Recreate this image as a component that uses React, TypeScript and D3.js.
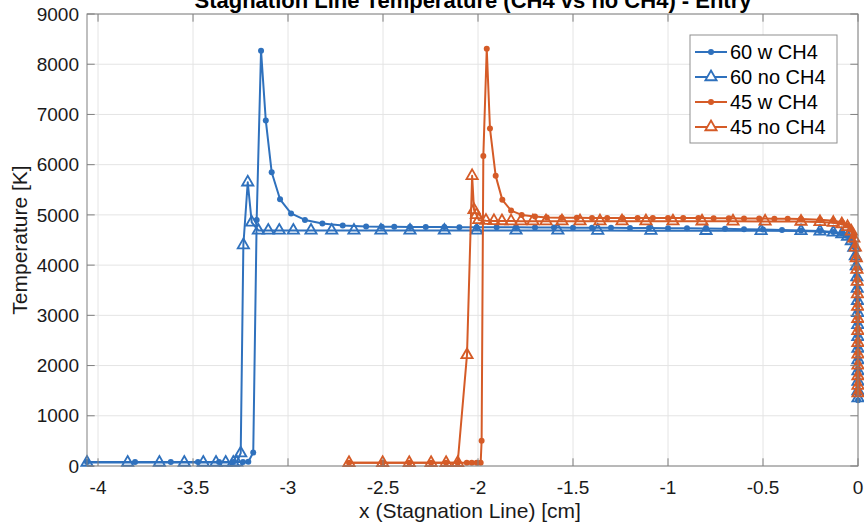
import React, { useEffect, useRef } from "react";
import * as d3 from "d3";

// chart size and plot box (pixels)
const width = 864, height = 523;
const margin = { top: 14, right: 6, bottom: 57, left: 87 };

const xTicks = [-4, -3.5, -3, -2.5, -2, -1.5, -1, -0.5, 0];
const yTicks = [0, 1000, 2000, 3000, 4000, 5000, 6000, 7000, 8000, 9000];

const seriesNames = ["60 w CH4", "60 no CH4", "45 w CH4", "45 no CH4"];
const seriesColors = ["#2f71bd", "#2f71bd", "#d55b27", "#d55b27"];
const seriesMarkers = ["dot", "tri", "dot", "tri"];

// points close to the wall (shared x grid)
const wallX = [-0.3, -0.2, -0.13, -0.085, -0.055, -0.035, -0.022, -0.014, -0.009, -0.006, -0.004,
  -0.0027, -0.0018, -0.0012, -0.0008, -0.0005, -0.0003, -0.00018, -0.0001, -0.00004, 0];

// 60 w CH4
const x60w = [-4.058, -3.805, -3.617, -3.474, -3.363, -3.289, -3.237, -3.209, -3.183, -3.165, -3.142,
  -3.117, -3.086, -3.042, -2.984, -2.911, -2.819, -2.712, -2.589, -2.507, -2.441, -2.358, -2.275,
  -2.177, -2.098, -2.007, -1.902, -1.8, -1.7, -1.6, -1.5, -1.4, -1.3, -1.2, -1.1, -1.0, -0.9, -0.8,
  -0.7, -0.6, -0.5, -0.4];
const t60w = [80, 80, 80, 80, 80, 80, 80, 85, 270, 4900, 8270, 6880, 5850, 5310, 5030, 4900, 4830,
  4790, 4770, 4765, 4762, 4760, 4758, 4757, 4756, 4755, 4754, 4752, 4750, 4748, 4746, 4744, 4742,
  4740, 4738, 4735, 4732, 4728, 4722, 4715, 4708, 4700];
const t60wWall = [4690, 4678, 4660, 4630, 4580, 4495, 4365, 4195, 3995, 3775, 3545, 3305, 3065, 2825,
  2585, 2345, 2110, 1880, 1660, 1470, 1310];

// 60 no CH4
const x60n = [-4.058, -3.844, -3.677, -3.546, -3.446, -3.379, -3.328, -3.288, -3.27, -3.249, -3.235,
  -3.212, -3.191, -3.156, -3.104, -3.046, -2.972, -2.879, -2.77, -2.653, -2.511, -2.358, -2.177,
  -2.007, -1.8, -1.58, -1.37, -1.09, -0.8, -0.51];
const t60n = [70, 70, 70, 70, 70, 70, 70, 70, 75, 255, 4400, 5650, 4850, 4690, 4690, 4690, 4690,
  4690, 4690, 4690, 4690, 4690, 4690, 4690, 4690, 4690, 4688, 4686, 4684, 4682];
const t60nWall = [4680, 4670, 4650, 4620, 4570, 4480, 4350, 4180, 3980, 3760, 3530, 3290, 3050, 2810,
  2570, 2340, 2110, 1890, 1680, 1490, 1350];

// 45 w CH4
const x45w = [-2.679, -2.502, -2.362, -2.247, -2.168, -2.107, -2.059, -2.033, -2.007, -1.986, -1.981,
  -1.972, -1.954, -1.937, -1.907, -1.872, -1.826, -1.77, -1.7, -1.638, -1.56, -1.48, -1.4, -1.32,
  -1.24, -1.16, -1.08, -1.0, -0.92, -0.84, -0.76, -0.68, -0.6, -0.52, -0.44, -0.37];
const t45w = [65, 65, 65, 65, 65, 65, 65, 65, 65, 65, 504, 6175, 8307, 6720, 5777, 5299, 5086, 5000,
  4966, 4950, 4945, 4942, 4940, 4940, 4940, 4940, 4940, 4940, 4938, 4936, 4934, 4932, 4930, 4928,
  4925, 4922];
const t45wWall = [4918, 4905, 4885, 4852, 4795, 4705, 4565, 4385, 4165, 3935, 3695, 3445, 3195, 2945,
  2705, 2465, 2235, 2015, 1805, 1615, 1460];

// 45 no CH4
const x45n = [-2.679, -2.502, -2.362, -2.247, -2.168, -2.107, -2.058, -2.031, -2.021, -2.008, -1.996,
  -1.958, -1.916, -1.874, -1.826, -1.774, -1.711, -1.642, -1.558, -1.463, -1.358, -1.242, -1.116,
  -0.974, -0.821, -0.658, -0.489];
const t45n = [65, 65, 65, 65, 65, 65, 2211, 5777, 5100, 5000, 4900, 4885, 4880, 4878, 4876, 4875,
  4875, 4875, 4875, 4875, 4875, 4875, 4875, 4874, 4873, 4872, 4870];
const t45nWall = [4868, 4860, 4845, 4815, 4762, 4672, 4535, 4355, 4142, 3912, 3672, 3422, 3172, 2932,
  2692, 2452, 2222, 2002, 1792, 1602, 1450];

const seriesX = [x60w.concat(wallX), x60n.concat(wallX), x45w.concat(wallX), x45n.concat(wallX)];
const seriesT = [t60w.concat(t60wWall), t60n.concat(t60nWall), t45w.concat(t45wWall), t45n.concat(t45nWall)];

const font = "'Liberation Sans', Arial, Helvetica, sans-serif";

const App = () => {
  const svgRef = useRef(null);

  useEffect(() => {
    const svg = d3.select(svgRef.current);
    svg.selectAll("*").remove();

    const x = d3.scaleLinear().domain([-4.058, 0]).range([margin.left, width - margin.right]);
    const y = d3.scaleLinear().domain([0, 9000]).range([height - margin.bottom, margin.top]);
    const x0 = margin.left, x1 = width - margin.right;
    const y0 = height - margin.bottom, y1 = margin.top;

    svg.append("rect").attr("width", width).attr("height", height).attr("fill", "white");

    // grid
    const grid = svg.append("g").attr("stroke", "#e4e4e4").attr("stroke-width", 1);
    xTicks.forEach(t => {
      grid.append("line").attr("x1", x(t)).attr("x2", x(t)).attr("y1", y0).attr("y2", y1);
    });
    yTicks.forEach(t => {
      grid.append("line").attr("x1", x0).attr("x2", x1).attr("y1", y(t)).attr("y2", y(t));
    });

    // series
    const plot = svg.append("g");
    seriesNames.forEach((name, i) => {
      const pts = seriesX[i].map((d, k) => ({ x: d, t: seriesT[i][k] }));
      const line = d3.line().x(d => x(d.x)).y(d => y(d.t));
      const g = plot.append("g");
      g.append("path")
        .datum(pts)
        .attr("fill", "none")
        .attr("stroke", seriesColors[i])
        .attr("stroke-width", 2)
        .attr("stroke-linejoin", "round")
        .attr("d", line);
      if (seriesMarkers[i] === "dot") {
        g.selectAll("circle").data(pts).enter().append("circle")
          .attr("cx", d => x(d.x)).attr("cy", d => y(d.t)).attr("r", 3)
          .attr("fill", seriesColors[i]);
      } else {
        const tri = d3.symbol().type(d3.symbolTriangle).size(55);
        g.selectAll("path.m").data(pts).enter().append("path")
          .attr("class", "m")
          .attr("d", tri())
          .attr("transform", d => `translate(${x(d.x)},${y(d.t)})`)
          .attr("fill", "none")
          .attr("stroke", seriesColors[i])
          .attr("stroke-width", 1.8);
      }
    });

    // axes box + ticks (inward, on all four sides)
    const ax = svg.append("g").attr("stroke", "#808080").attr("stroke-width", 1).attr("fill", "none");
    ax.append("rect").attr("x", x0).attr("y", y1).attr("width", x1 - x0).attr("height", y0 - y1);
    const tl = 7.7;
    xTicks.forEach(t => {
      ax.append("line").attr("x1", x(t)).attr("x2", x(t)).attr("y1", y0).attr("y2", y0 - tl);
      ax.append("line").attr("x1", x(t)).attr("x2", x(t)).attr("y1", y1).attr("y2", y1 + tl);
    });
    yTicks.forEach(t => {
      ax.append("line").attr("x1", x0).attr("x2", x0 + tl).attr("y1", y(t)).attr("y2", y(t));
      ax.append("line").attr("x1", x1).attr("x2", x1 - tl).attr("y1", y(t)).attr("y2", y(t));
    });

    // tick labels
    const lab = svg.append("g").attr("font-family", font).attr("font-size", 19).attr("fill", "#1a1a1a");
    xTicks.forEach(t => {
      lab.append("text").attr("x", x(t)).attr("y", 494).attr("text-anchor", "middle").text(String(t));
    });
    yTicks.forEach(t => {
      lab.append("text").attr("x", x0 - 8).attr("y", y(t) + 6.7).attr("text-anchor", "end").text(String(t));
    });

    // axis titles
    svg.append("text")
      .attr("x", 470).attr("y", 518)
      .attr("text-anchor", "middle")
      .attr("font-family", font).attr("font-size", 21).attr("fill", "#1a1a1a")
      .text("x (Stagnation Line) [cm]");
    svg.append("text")
      .attr("transform", "translate(27,240) rotate(-90)")
      .attr("text-anchor", "middle")
      .attr("font-family", font).attr("font-size", 21).attr("fill", "#1a1a1a")
      .text("Temperature [K]");
    svg.append("text")
      .attr("x", 473).attr("y", 8)
      .attr("text-anchor", "middle")
      .attr("font-family", font).attr("font-size", 22).attr("font-weight", "bold").attr("fill", "#000")
      .text("Stagnation Line Temperature (CH4 vs no CH4) - Entry");

    // legend
    const lg = svg.append("g");
    lg.append("rect").attr("x", 690).attr("y", 35).attr("width", 147).attr("height", 108)
      .attr("fill", "white").attr("stroke", "#8f8f8f").attr("stroke-width", 1);
    seriesNames.forEach((name, i) => {
      const ly = 52 + i * 25;
      lg.append("line").attr("x1", 695).attr("x2", 727).attr("y1", ly).attr("y2", ly)
        .attr("stroke", seriesColors[i]).attr("stroke-width", 2);
      if (seriesMarkers[i] === "dot") {
        lg.append("circle").attr("cx", 711).attr("cy", ly).attr("r", 3).attr("fill", seriesColors[i]);
      } else {
        lg.append("path").attr("d", d3.symbol().type(d3.symbolTriangle).size(55)())
          .attr("transform", `translate(711,${ly})`)
          .attr("fill", "white").attr("stroke", seriesColors[i]).attr("stroke-width", 1.8);
      }
      lg.append("text").attr("x", 730).attr("y", ly + 7)
        .attr("font-family", font).attr("font-size", 20).attr("fill", "#000")
        .text(name);
    });
  }, []);

  return (
    <svg ref={svgRef} width={width} height={height}
      style={{ position: "absolute", left: 0, top: 0, display: "block" }}></svg>
  );
};

export default App;
